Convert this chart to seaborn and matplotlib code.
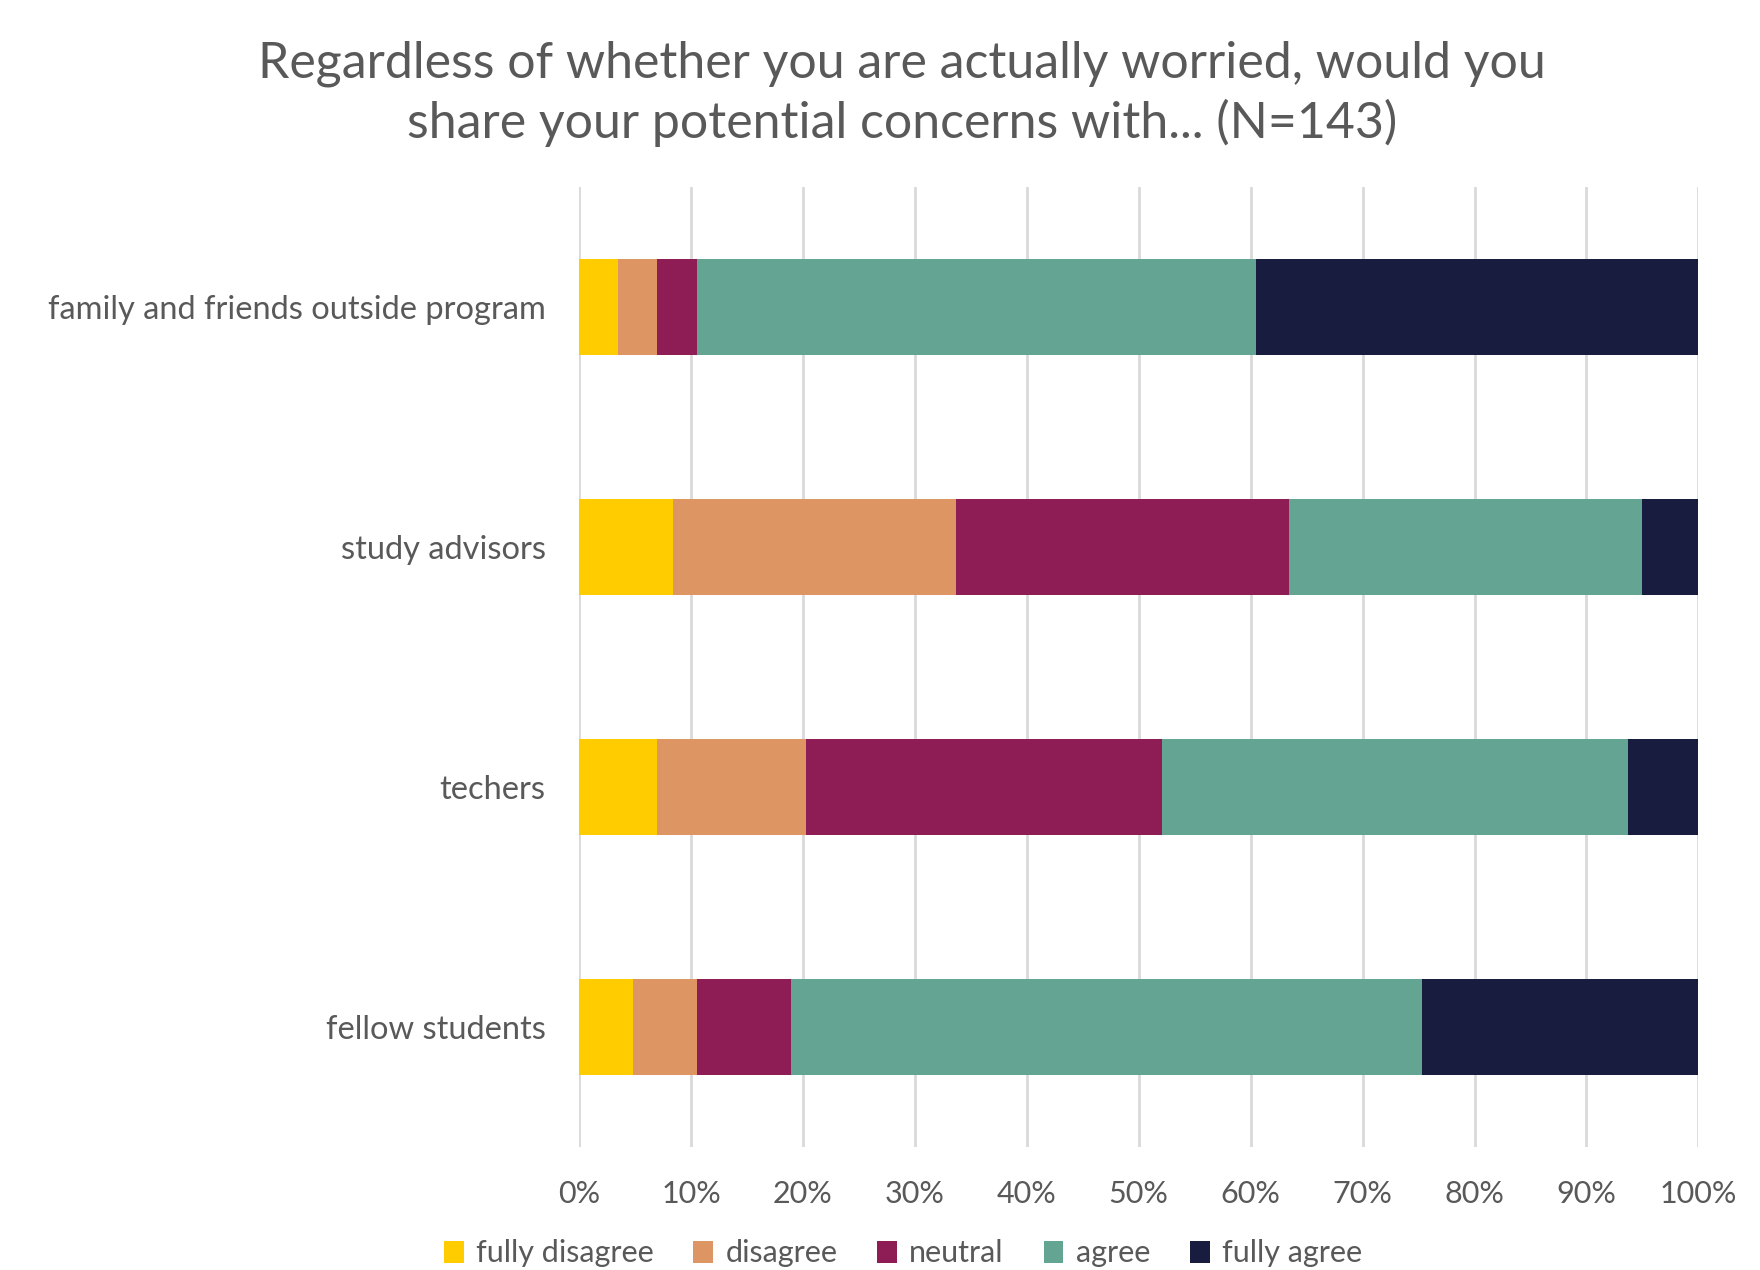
import matplotlib
matplotlib.use("Agg")
import matplotlib.pyplot as plt
from matplotlib.patches import Patch
from matplotlib.ticker import PercentFormatter
import seaborn as sns
import pandas as pd
import numpy as np

categories = ["family and friends outside program", "study advisors", "techers", "fellow students"]
responses = ["fully disagree", "disagree", "neutral", "agree", "fully agree"]
fully_disagree = [3.5, 8.4, 7.0, 4.8]
disagree = [3.5, 25.3, 13.3, 5.7]
neutral = [3.5, 29.7, 31.8, 8.4]
agree = [50.0, 31.6, 41.6, 56.4]
fully_agree = [39.5, 5.0, 6.3, 24.7]
colors = ["#FFCC00", "#DD9563", "#8F1D55", "#63A592", "#181D40"]
title = "Regardless of whether you are actually worried, would you\nshare your potential concerns with... (N=143)"

sns.set_theme(style="white")
plt.rcParams["font.family"] = ["Lato", "DejaVu Sans"]

series = [fully_disagree, disagree, neutral, agree, fully_agree]
df = pd.DataFrame({r: v for r, v in zip(responses, series)}, index=categories)
cum = df.cumsum(axis=1)

fig = plt.figure(figsize=(17.6, 12.7), dpi=100)
ax = fig.add_axes([0.329, 0.097, 0.636, 0.756])

# draw cumulative bars from longest to shortest so they overlay as stacked segments
for r, c in reversed(list(zip(responses, colors))):
    d = pd.DataFrame({"category": categories, "value": cum[r].values})
    sns.barplot(data=d, x="value", y="category", color=c, orient="h",
                width=0.40, ax=ax, saturation=1, linewidth=0, order=categories)

ax.set_xlim(0, 100)
ax.set_ylim(3.5, -0.5)
ax.set_xticks(np.arange(0, 101, 10))
ax.xaxis.set_major_formatter(PercentFormatter(decimals=0))
ax.grid(axis="x", color="#D9D9D9", linewidth=2)
ax.set_axisbelow(True)
for s in ax.spines.values():
    s.set_visible(False)
ax.set_xlabel("")
ax.set_ylabel("")
ax.tick_params(axis="x", colors="#595959", labelsize=22, length=0, pad=24)
ax.tick_params(axis="y", colors="#595959", labelsize=23.5, length=0, pad=24)

fig.text(0.5125, 0.926, title, fontsize=36, color="#595959", ha="center", va="center",
         linespacing=1.3)

handles = [Patch(facecolor=c, edgecolor="none", label=r) for r, c in zip(responses, colors)]
fig.legend(handles=handles, loc="center", bbox_to_anchor=(0.513, 0.013), ncol=5,
           frameon=False, fontsize=22, labelcolor="#595959", handlelength=0.65,
           handleheight=0.75, handletextpad=0.4, columnspacing=1.3)

fig.savefig("out.png", dpi=100)
